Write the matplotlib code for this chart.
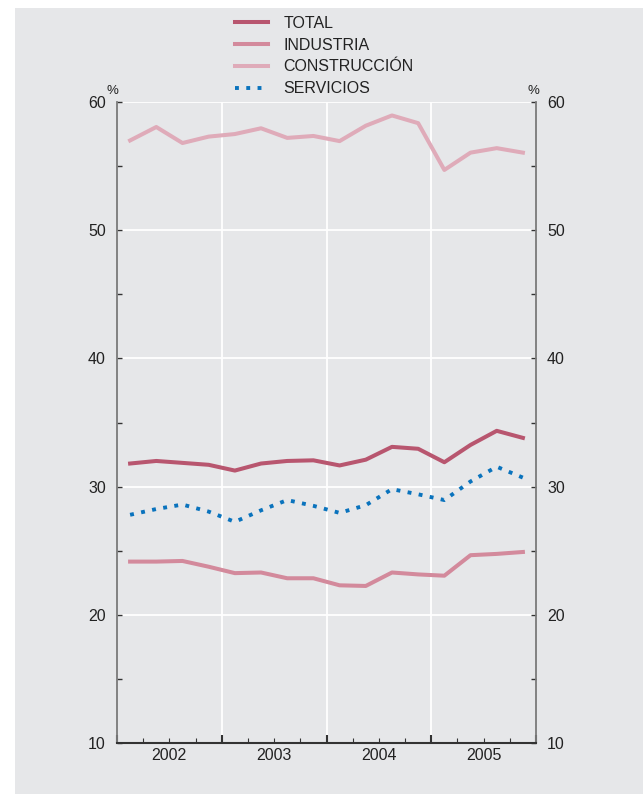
import matplotlib
matplotlib.use('Agg')
from matplotlib import pyplot as plt
from matplotlib.patches import Rectangle
from matplotlib.ticker import FixedLocator, FixedFormatter, NullFormatter
import numpy as np

plt.rcParams['font.family'] = ['Liberation Sans', 'DejaVu Sans']

# quarterly data 2002Q1 - 2005Q4
years = ['2002', '2003', '2004', '2005']
total = [31.8, 32.0, 31.85, 31.7, 31.25, 31.8, 32.0, 32.05, 31.65, 32.1,
         33.1, 32.95, 31.9, 33.25, 34.35, 33.8]
industria = [24.15, 24.15, 24.2, 23.75, 23.25, 23.3, 22.85, 22.85, 22.3, 22.25,
             23.3, 23.15, 23.05, 24.65, 24.75, 24.9]
construccion = [57.0, 58.05, 56.8, 57.3, 57.5, 57.95, 57.2, 57.35, 56.95, 58.15,
                58.95, 58.35, 54.7, 56.05, 56.4, 56.05]
servicios = [27.8, 28.25, 28.6, 28.05, 27.25, 28.15, 28.95, 28.5, 27.95, 28.55,
             29.8, 29.4, 28.95, 30.4, 31.55, 30.7]

bg = '#e6e7e9'
c_total = '#b8566f'
c_ind = '#d38a9c'
c_con = '#dfabb9'
c_serv = '#0a73bd'

fig = plt.figure(figsize=(6.43, 7.94), dpi=100)
fig.patch.set_facecolor('white')
fig.patches.append(Rectangle((15/643, 0), 1, 1 - 8/794, transform=fig.transFigure,
                             facecolor=bg, edgecolor='none', zorder=-10))

ax = fig.add_axes([117/643, 1 - 743/794, (536 - 117)/643, (743 - 102)/794])
ax.set_facecolor(bg)

x = np.arange(len(total)) + 0.5
ax.plot(x, construccion, color=c_con, lw=2.9, label='CONSTRUCCIÓN', zorder=3)
ax.plot(x, industria, color=c_ind, lw=2.9, label='INDUSTRIA', zorder=3)
ax.plot(x, total, color=c_total, lw=2.9, label='TOTAL', zorder=3)
ax.plot(x, servicios, color=c_serv, lw=2.8, linestyle=(0, (1, 1.9)), dash_capstyle='butt',
        label='SERVICIOS', zorder=3)

ax.set_xlim(0, 16)
ax.set_ylim(10, 60)

# grid
for v in [20, 30, 40, 50, 60]:
    ax.axhline(v, color='white', lw=1.3, zorder=1)
for v in [4, 8, 12]:
    ax.axvline(v, color='white', lw=1.3, zorder=1)

# spines
ax.spines['top'].set_visible(False)
ax.spines['left'].set_color('#7a7a7a')
ax.spines['right'].set_color('#7a7a7a')
ax.spines['left'].set_linewidth(1.3)
ax.spines['right'].set_linewidth(1.3)
ax.spines['bottom'].set_color('#333333')
ax.spines['bottom'].set_linewidth(1.5)

# x ticks
ax.xaxis.set_major_locator(FixedLocator([0, 4, 8, 12, 16]))
ax.xaxis.set_major_formatter(NullFormatter())
minor_pos = [q for q in range(1, 16) if q % 4 != 0]
minor_lab = [years[q // 4] if q % 4 == 2 else '' for q in minor_pos]
ax.xaxis.set_minor_locator(FixedLocator(minor_pos))
ax.xaxis.set_minor_formatter(FixedFormatter(minor_lab))
ax.tick_params(axis='x', which='major', direction='in', length=6, width=1.5, color='#333333')
ax.tick_params(axis='x', which='minor', direction='in', length=3.5, width=0.8, color='#333333',
               labelsize=11.5, pad=3.5, labelcolor='#222222')

# y ticks
ax.set_yticks([10, 20, 30, 40, 50, 60])
ax.set_yticks([15, 25, 35, 45, 55], minor=True)
ax.tick_params(axis='y', which='both', direction='in', length=3.5, width=1.0, color='#333333',
               labelsize=11.5, left=True, right=True, labelleft=True, labelright=True,
               pad=8, labelcolor='#222222')

ax.text(-0.01, 1.008, '%', transform=ax.transAxes, ha='center', va='bottom', fontsize=9.5,
        color='#222222')
ax.text(0.995, 1.008, '%', transform=ax.transAxes, ha='center', va='bottom', fontsize=9.5,
        color='#222222')

# legend
h, l = ax.get_legend_handles_labels()
order = [2, 1, 0, 3]
fig.legend([h[i] for i in order], [l[i] for i in order], loc='upper left',
           bbox_to_anchor=(227/643, 1 - 8/794), frameon=False, fontsize=11.5,
           handlelength=2.05, handletextpad=1.0, labelspacing=0.42, borderpad=0,
           labelcolor='#222222')

fig.savefig('out.png', dpi=100, facecolor='white')
